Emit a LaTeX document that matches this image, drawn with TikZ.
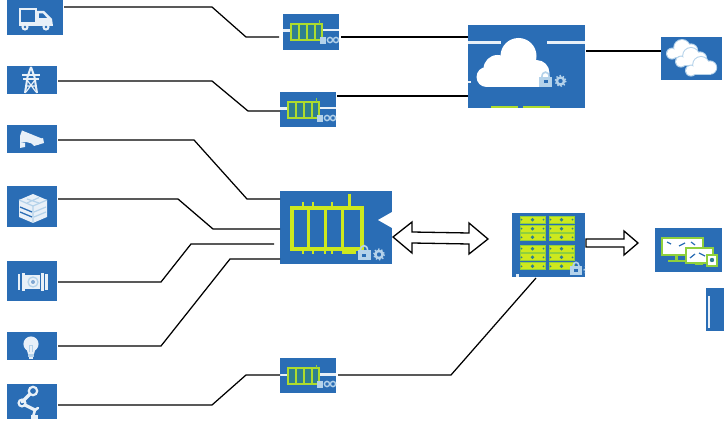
\documentclass[tikz,border=0pt]{standalone}
\usetikzlibrary{calc}
\definecolor{tileblue}{HTML}{2A6DB5}
\definecolor{icon}{HTML}{E8F0F8}
\definecolor{lime}{HTML}{CDE81E}
\definecolor{limeg}{HTML}{8FD03C}
\definecolor{teal}{HTML}{2F7F8F}
\definecolor{faint}{HTML}{B4D2EA}
\tikzset{
  x=1pt,y=-1pt,
  tile/.style={fill=tileblue,draw=none,inner sep=0pt,outer sep=0pt,anchor=north west,rectangle},
  wire/.style={draw=black,line width=1.25pt,line join=miter},
  blockarrow/.style={draw=black,fill=white,line width=1.3pt,line join=miter},
  lockgear/.pic={
    \draw[faint,line width=1.6pt] (-3.6,-3) .. controls (-3.6,-9.5) and (3.6,-9.5) .. (3.6,-3);
    \fill[faint] (-6.5,-3) rectangle (6.5,7);
    \fill[tileblue] (-2,0.5) rectangle (2,3.5);
    \draw[faint,line width=2.4pt] (15,1) circle (3.6);
    \draw[faint,line width=1.4pt,dotted] (15,1) circle (5.4);
  },
  gwsmall/.pic={
    \fill[icon] (0,15.5) rectangle (7,18);
    \fill[icon] (40,15) rectangle (56,17.5);
    \fill[teal] (8,10) rectangle (39,26);
    \draw[limeg!50!lime,line width=1.7pt] (8,10) rectangle (39,26);
    \foreach \cx in {16,24,32}{\draw[limeg!50!lime,line width=1.5pt] (\cx,10) -- (\cx,26);}
    \draw[limeg,line width=1pt] (36,6.5) -- (36,10);
    \fill[faint] (37,23) rectangle (43,30);
    \draw[faint,line width=1.4pt] (47,26) circle (2.6);
    \draw[faint,line width=1.4pt] (53,26) circle (2.6);
  },
  gwbig/.pic={
    \fill[white] (98,29) -- (112,21) -- (112,37) -- cycle;
    \draw[lime,line width=3.4pt] (12,17) rectangle (82,58);
    \foreach \cx in {28,45,62}{\draw[lime,line width=3pt] (\cx,17) -- (\cx,58);}
    \foreach \cx in {23,33,52}{\draw[lime,line width=2.4pt] (\cx,11) -- (\cx,17);}
    \foreach \cx in {23,33,45,52}{\draw[lime,line width=2.4pt] (\cx,58) -- (\cx,63);}
    \draw[lime,line width=3pt] (69,3) -- (69,17);
    \fill[lime] (62,58) rectangle (76,63);
    \pic at (84,62.5) {lockgear};
  },
  cloudshape/.pic={
    \fill[white] (51,31) circle (18);
    \fill[white] (30,44) circle (14);
    \fill[white] (19,52) circle (10);
    \fill[white] (69,48) circle (13);
    \fill[white] (19,44) rectangle (76,62);
  },
  cloudbig/.pic={
    \fill[icon] (0,16) rectangle (33,18.8);
    \fill[icon] (79,16) rectangle (117,18.8);
    \fill[icon] (0,56) rectangle (3,58.5);
    \pic at (0,0) {cloudshape};
    \pic at (78,55) {lockgear};
    \fill[limeg!50!lime] (23,81) rectangle (50,83);
    \fill[limeg!50!lime] (55,81) rectangle (82,83);
  },
  oneCloud/.pic={
    \fill[faint] (-10,4.6) circle (6);
    \fill[faint] (0,-1.2) circle (8.8);
    \fill[faint] (9,1.6) circle (7.2);
    \fill[faint] (-10,1) rectangle (10,9);
    \fill[white] (-10,4.6) circle (5);
    \fill[white] (0,-1.2) circle (7.8);
    \fill[white] (9,1.6) circle (6.2);
    \fill[white] (-10,1) rectangle (10,8);
  },
  cloudsthree/.pic={
    \pic at (21,12) {oneCloud};
    \pic at (30,20) {oneCloud};
    \pic at (40,29) {oneCloud};
  },
  serverrack/.pic={
    \foreach \ry in {6.7,15.7,24.3,35.7,44.3,53.3}{
      \foreach \rx in {8,37}{
        \fill[lime] (\rx,\ry-3.4) rectangle (\rx+25,\ry+3.4);
        \draw[limeg,line width=1pt] (\rx,\ry-3.4) rectangle (\rx+25,\ry+3.4);
        \fill[teal] (\rx+12.5,\ry) circle (1.9);
        \fill[teal] (\rx+1.5,\ry) circle (1);
        \fill[teal] (\rx+23.5,\ry) circle (1);
      }
    }
    \begin{scope}
      \clip (0,0) rectangle (73,64);
      \pic[scale=0.85] at (64,56) {lockgear};
    \end{scope}
    \fill[icon] (4,61.5) rectangle (6.5,64);
  },
  dashscreens/.pic={
    \fill[limeg] (19.5,27) rectangle (22.5,32);
    \fill[limeg] (13,32) rectangle (30,34.5);
    \fill[white] (7,10) rectangle (48,27);
    \draw[limeg,line width=2pt] (7,10) rectangle (48,27);
    \draw[tileblue,line width=1.2pt] (12,14) -- (16,16) (24,18) -- (30,15) (36,14) -- (40,17);
    \fill[limeg] (40,35) rectangle (48,37.5);
    \fill[white] (31,20) rectangle (58,35);
    \draw[limeg,line width=1.9pt] (31,20) rectangle (58,35);
    \draw[tileblue,line width=1.2pt] (35,30) -- (40,26) (44,25) -- (50,28);
    \fill[white] (52,27) rectangle (62,38);
    \draw[limeg,line width=1.6pt] (52,27) rectangle (62,38);
    \fill[teal] (57,32) circle (2.2);
  },
  truckicon/.pic={
    \draw[icon,line width=2pt] (13,9) rectangle (29,25);
    \fill[icon] (29,11) -- (37,11) -- (45,19) -- (46,26) -- (29,26) -- cycle;
    \fill[tileblue] (32,13.5) -- (36,13.5) -- (40,18) -- (32,18) -- cycle;
    \fill[icon] (13,22) rectangle (29,26);
    \fill[icon] (18,27) circle (3.6);
    \fill[tileblue] (18,27) circle (1.3);
    \fill[icon] (39,27) circle (3.6);
    \fill[tileblue] (39,27) circle (1.3);
  },
  pylonicon/.pic={
    \draw[icon,line width=2pt,line join=round] (24,1) -- (20.5,11) -- (18,27) (24,1) -- (27.5,11) -- (30,27);
    \draw[icon,line width=2.2pt] (15,9) -- (33,9);
    \draw[icon,line width=1.8pt] (16,13) -- (32,13);
    \draw[icon,line width=1.2pt] (20,14) -- (29,26) (28,14) -- (19,26) (19,20) -- (29,20);
  },
  cameraicon/.pic={
    \fill[icon] (15,5.5) -- (36,14) -- (31,20) -- (19,17) -- (13,18) -- (13,11) -- cycle;
    \fill[icon] (13,18) -- (18,18) -- (18,22) -- (13,23) -- cycle;
    \fill[icon] (36,13) -- (37,18) -- (27,21) -- (24,18) -- cycle;
  },
  buildingicon/.pic={
    \fill[icon] (26,8) -- (40,14) -- (40,31) -- (26,37) -- (12,31) -- (12,14) -- cycle;
    \draw[faint,line width=1.2pt] (12,14) -- (26,20) -- (40,14) (26,20) -- (26,37);
    \draw[tileblue,line width=1.3pt] (13,21) -- (25,26) (13,26) -- (25,31);
    \draw[faint,line width=1.2pt] (20,13) -- (32,17) (32,11.5) -- (20,17);
    \draw[faint,line width=1.2pt] (27,26) -- (39,21) (27,31) -- (39,26);
  },
  valveicon/.pic={
    \fill[icon] (11,13) rectangle (13,29);
    \fill[icon] (14.5,12) rectangle (17.5,30);
    \fill[icon] (33.5,12) rectangle (36.5,30);
    \fill[icon] (38,13) rectangle (41,29);
    \fill[icon] (18,14) rectangle (33,28);
    \draw[faint,line width=1.3pt] (26,21) circle (5);
    \fill[tileblue!60!white] (26,21) circle (2);
  },
  bulbicon/.pic={
    \fill[icon] (24,12) circle (7.6);
    \fill[icon] (19,15) -- (29,15) -- (27,22) -- (21,22) -- cycle;
    \fill[faint] (21,22.4) rectangle (27,24.6);
    \fill[icon] (22,25) rectangle (26,27);
    \draw[faint,line width=1pt] (22.5,20) -- (22.5,13) -- (25.5,13) -- (25.5,20);
  },
  roboticon/.pic={
    \draw[icon,line width=2.2pt] (26,7) circle (4.2);
    \draw[icon,line width=3.2pt,line cap=round] (23,10) -- (15,18);
    \draw[icon,line width=2.2pt] (15,19) circle (3.4);
    \draw[icon,line width=3.2pt,line cap=round] (18,21) -- (28,26);
    \draw[icon,line width=2.6pt,line cap=round] (28,26) -- (31,24) (28,26) -- (26,33);
    \fill[icon] (24,31) rectangle (31,35);
  }
}
\begin{document}
\begin{tikzpicture}
\useasboundingbox (0,0) rectangle (724,425);
% tiles
\node[tile,minimum width=56pt,minimum height=35pt] (truck) at (7,0) {};
\node[tile,minimum width=50pt,minimum height=28pt] (pylon) at (7,66) {};
\node[tile,minimum width=50pt,minimum height=28pt] (camera) at (7,125) {};
\node[tile,minimum width=50pt,minimum height=41pt] (building) at (7,186) {};
\node[tile,minimum width=50pt,minimum height=40pt] (valve) at (7,261) {};
\node[tile,minimum width=50pt,minimum height=28pt] (bulb) at (7,332) {};
\node[tile,minimum width=50pt,minimum height=35pt] (robot) at (7,384) {};
\node[tile,minimum width=56pt,minimum height=36pt] (gwa) at (283,14) {};
\node[tile,minimum width=56pt,minimum height=35pt] (gwb) at (280,92) {};
\node[tile,minimum width=56pt,minimum height=35pt] (gwc) at (280,358) {};
\node[tile,minimum width=112pt,minimum height=73pt] (gwmain) at (280,191) {};
\node[tile,minimum width=117.5pt,minimum height=83pt] (cloud) at (467.5,25) {};
\node[tile,minimum width=61pt,minimum height=43pt] (clouds) at (661,37) {};
\node[tile,minimum width=73pt,minimum height=64pt] (server) at (512,213) {};
\node[tile,minimum width=67pt,minimum height=44pt] (screens) at (655,228) {};
\node[tile,minimum width=18pt,minimum height=43pt] (cutoff) at (706,288) {};
% icons
\pic at (truck.north west) {truckicon};
\pic at (pylon.north west) {pylonicon};
\pic at (camera.north west) {cameraicon};
\pic at (building.north west) {buildingicon};
\pic at (valve.north west) {valveicon};
\pic at (bulb.north west) {bulbicon};
\pic at (robot.north west) {roboticon};
\pic at (gwa.north west) {gwsmall};
\pic at (gwb.north west) {gwsmall};
\pic at (gwc.north west) {gwsmall};
\pic at (gwmain.north west) {gwbig};
\pic at (cloud.north west) {cloudbig};
\pic at (clouds.north west) {cloudsthree};
\pic at (server.north west) {serverrack};
\pic at (screens.north west) {dashscreens};
\fill[icon] ($(cutoff.north west)+(2,8)$) rectangle ($(cutoff.north west)+(3.5,40)$);
% connectors
\draw[wire] ($(truck.north east)+(1,7)$) -- (212,7) -- (246,37) -- ($(gwa.north west)+(-4,23)$);
\draw[wire] ($(pylon.north east)+(1,15)$) -- (212,81) -- (248,111) -- ($(gwb.north west)+(0,19)$);
\draw[wire] ($(camera.north east)+(1,15)$) -- (194,140) -- (247,199) -- ($(gwmain.north west)+(0,8)$);
\draw[wire] ($(building.north east)+(1,13)$) -- (178,199) -- (213,229) -- ($(gwmain.north west)+(0,38)$);
\draw[wire] ($(valve.north east)+(1,21)$) -- (161,282) -- (191,244) -- ($(gwmain.north west)+(-6,53)$);
\draw[wire] ($(bulb.north east)+(1,14)$) -- (161,346) -- (230,259) -- ($(gwmain.north west)+(0,68)$);
\draw[wire] ($(robot.north east)+(1,21)$) -- (212,405) -- (246,375) -- ($(gwc.north west)+(0,17)$);
\draw[wire] ($(gwa.north east)+(2,23)$) -- ($(cloud.north west)+(0,12)$);
\draw[wire] ($(gwb.north east)+(1,4)$) -- ($(cloud.north west)+(0,71)$);
\draw[wire] ($(cloud.north east)+(1,26)$) -- ($(clouds.north west)+(0,14)$);
\draw[wire] ($(gwc.north east)+(2,17)$) -- (451,375) -- ($(server.south west)+(24,1)$);
% block arrows
\draw[blockarrow] (393,237) -- (412,222) -- (412,232) -- (469,233) -- (469,223) -- (488,239) -- (469,254) -- (469,244) -- (412,243) -- (412,253) -- cycle;
\draw[blockarrow] (586,239) -- (624,239) -- (624,231) -- (638,243) -- (624,255) -- (624,247) -- (586,247) -- cycle;
\end{tikzpicture}
\end{document}
